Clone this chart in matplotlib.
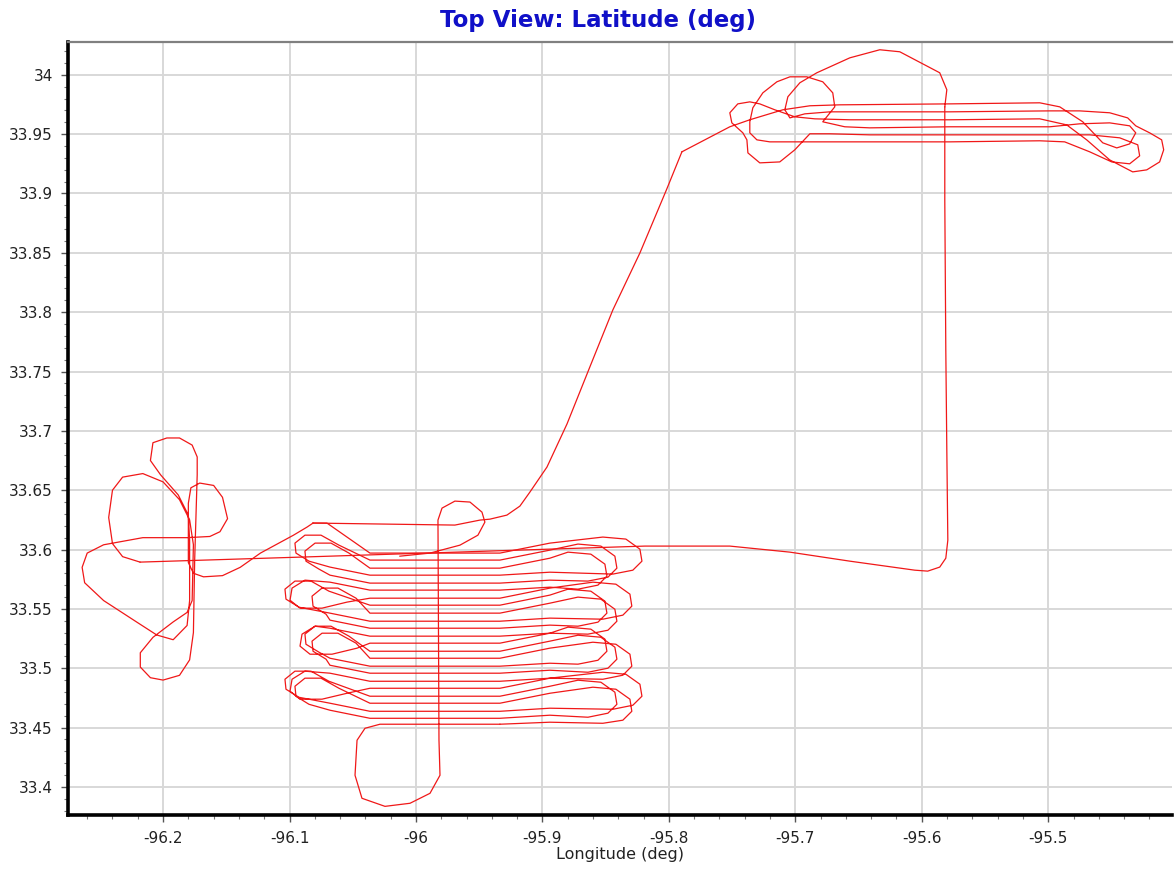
import numpy as np
import matplotlib
matplotlib.use("Agg")
import matplotlib.pyplot as plt
from matplotlib.ticker import MultipleLocator, FuncFormatter

# --- flight track (lon, lat in deg) ---

# box corner -> diagonal up to the NE pattern
transit_lon = [-96.0814, -95.9692, -95.9494, -95.9415, -95.9281, -95.9178, -95.9099,
               -95.8964, -95.8806, -95.8625, -95.8443, -95.8229, -95.8016, -95.7897]
transit_lat = [33.6223, 33.6206, 33.6248, 33.6256, 33.6290, 33.6366, 33.6484,
               33.6695, 33.7057, 33.7538, 33.8019, 33.8499, 33.9039, 33.9351]

# NE racetrack with loops at both ends
ne_lon = [-95.7897, -95.7518, -95.7360, -95.7099, -95.6885, -95.6648, -95.5779, -95.5067,
          -95.4909, -95.4727, -95.4569, -95.4458, -95.4356, -95.4308, -95.4356, -95.4514,
          -95.4751, -95.4988, -95.5779, -95.6411, -95.6609, -95.6783, -95.6688, -95.6704,
          -95.6783, -95.6909, -95.7043, -95.7146, -95.7257, -95.7336, -95.7360, -95.7360,
          -95.7304, -95.7202, -95.6569, -95.5779, -95.5067, -95.4870, -95.4672, -95.4498,
          -95.4356, -95.4277, -95.4292, -95.4435, -95.4672, -95.4988, -95.5779, -95.6411,
          -95.6727, -95.6885, -95.7004, -95.7123, -95.7281, -95.7375, -95.7383, -95.7415,
          -95.7502, -95.7518, -95.7455, -95.7360, -95.7281, -95.7162, -95.7004, -95.6846,
          -95.6569, -95.5779, -95.5067, -95.4854, -95.4696, -95.4514, -95.4332, -95.4221,
          -95.4119, -95.4087, -95.4103, -95.4198, -95.4308, -95.4372, -95.4514, -95.4751,
          -95.4988, -95.5779, -95.6411, -95.6727, -95.6925, -95.7043, -95.7083, -95.7059,
          -95.6964, -95.6830, -95.6569, -95.6332, -95.6174, -95.5858, -95.5802, -95.5818]
ne_lat = [33.9351, 33.9562, 33.9621, 33.9705, 33.9739, 33.9747, 33.9755, 33.9764,
          33.9730, 33.9604, 33.9427, 33.9384, 33.9418, 33.9511, 33.9570, 33.9595,
          33.9587, 33.9562, 33.9562, 33.9553, 33.9562, 33.9604, 33.9730, 33.9848,
          33.9941, 33.9983, 33.9983, 33.9941, 33.9848, 33.9722, 33.9604, 33.9511,
          33.9452, 33.9435, 33.9435, 33.9435, 33.9444, 33.9435, 33.9351, 33.9266,
          33.9250, 33.9317, 33.9410, 33.9469, 33.9494, 33.9494, 33.9494, 33.9494,
          33.9503, 33.9503, 33.9368, 33.9266, 33.9258, 33.9342, 33.9452, 33.9511,
          33.9595, 33.9680, 33.9755, 33.9772, 33.9755, 33.9705, 33.9646, 33.9629,
          33.9621, 33.9621, 33.9629, 33.9578, 33.9452, 33.9283, 33.9182, 33.9199,
          33.9266, 33.9368, 33.9452, 33.9511, 33.9570, 33.9637, 33.9680, 33.9696,
          33.9696, 33.9688, 33.9688, 33.9688, 33.9671, 33.9637, 33.9705, 33.9815,
          33.9933, 34.0017, 34.0143, 34.0211, 34.0194, 34.0017, 33.9874, 33.9730]

# east leg down, then straight back west
return_lon = [-95.5818, -95.5818, -95.5810, -95.5802, -95.5794, -95.5810, -95.5858, -95.5953,
              -95.6055, -95.6569, -95.7043, -95.7518, -95.8190, -96.0917, -96.2182]
return_lat = [33.9730, 33.8946, 33.7681, 33.6838, 33.6079, 33.5927, 33.5852, 33.5818,
              33.5826, 33.5902, 33.5978, 33.6029, 33.6029, 33.5936, 33.5894]

# loops to the west
west_lon = [-96.2182, -96.232, -96.240, -96.243, -96.240, -96.232, -96.216, -96.200, -96.187,
            -96.179, -96.176, -96.177, -96.181, -96.192, -96.208, -96.218, -96.218, -96.210,
            -96.200, -96.187, -96.179, -96.176, -96.175, -96.173, -96.173, -96.177, -96.187,
            -96.197, -96.208, -96.210, -96.202, -96.188, -96.180, -96.179, -96.179, -96.181,
            -96.192, -96.205, -96.221, -96.247, -96.262, -96.264, -96.260, -96.247, -96.216,
            -96.181, -96.163, -96.155, -96.149, -96.153, -96.160, -96.171, -96.178, -96.180,
            -96.180, -96.180, -96.176, -96.168, -96.153, -96.139, -96.123, -96.097, -96.086,
            -96.0814]
west_lat = [33.5894, 33.594, 33.605, 33.627, 33.650, 33.661, 33.664, 33.657, 33.642,
            33.625, 33.604, 33.557, 33.547, 33.539, 33.526, 33.513, 33.501, 33.492,
            33.490, 33.494, 33.507, 33.530, 33.591, 33.663, 33.678, 33.688, 33.694,
            33.694, 33.690, 33.675, 33.663, 33.646, 33.629, 33.608, 33.557, 33.536,
            33.524, 33.528, 33.539, 33.557, 33.572, 33.585, 33.597, 33.604, 33.610,
            33.610, 33.611, 33.615, 33.626, 33.644, 33.654, 33.656, 33.652, 33.639,
            33.616, 33.589, 33.580, 33.577, 33.578, 33.585, 33.597, 33.612, 33.619,
            33.6223]

# survey box (racetrack passes)
box_lon = [
    -96.0814, -96.0704, -96.0545, -96.0364, -95.9336,
    -95.8941, -95.8522, -95.8340, -95.8229, -95.8213, -95.8285, -95.8443, -95.8941, -95.9336,
    -96.0364, -96.0680, -96.0846, -96.0949, -96.0957, -96.0878, -96.0751, -96.0609, -96.0364,
    -95.9336, -95.8941, -95.8719, -95.8538, -95.8427, -95.8411, -95.8482, -95.8640, -95.8941, -95.9336,
    -96.0364, -96.0680, -96.0767, -96.0870, -96.0878, -96.0798, -96.0672, -96.0530, -96.0364,
    -95.9336, -95.8941, -95.8798, -95.8617, -95.8506, -95.8490, -95.8561, -95.8719, -95.8941, -95.9336,
    -96.0364, -96.0680, -96.0878, -96.0980, -96.0996, -96.0917, -96.0743, -96.0545, -96.0364,
    -95.9336, -95.8941, -95.8601, -95.8419, -95.8308, -95.8293, -95.8364, -95.8522, -95.8941, -95.9336,
    -96.0364, -96.0680, -96.0925, -96.1028, -96.1036, -96.0957, -96.0830, -96.0688, -96.0364,
    -95.9336, -95.8941, -95.8798, -95.8617, -95.8506, -95.8490, -95.8561, -95.8719, -95.8941, -95.9336,
    -96.0364, -96.0680, -96.0711, -96.0814, -96.0822, -96.0743, -96.0617, -96.0474, -96.0364,
    -95.9336, -95.8941, -95.8719, -95.8538, -95.8427, -95.8411, -95.8482, -95.8640, -95.8941, -95.9336,
    -96.0364, -96.0680, -96.0798, -96.0901, -96.0917, -96.0838, -96.0664, -96.0466, -96.0364,
    -95.9336, -95.8941, -95.8798, -95.8617, -95.8506, -95.8490, -95.8561, -95.8719, -95.8941, -95.9336,
    -96.0364, -96.0680, -96.0767, -96.0870, -96.0878, -96.0798, -96.0672, -96.0530, -96.0364,
    -95.9336, -95.8941, -95.8719, -95.8538, -95.8427, -95.8411, -95.8482, -95.8640, -95.8941, -95.9336,
    -96.0364, -96.0680, -96.0711, -96.0814, -96.0822, -96.0743, -96.0617, -96.0474, -96.0364,
    -95.9336, -95.8941, -95.8601, -95.8419, -95.8308, -95.8293, -95.8364, -95.8522, -95.8941, -95.9336,
    -96.0364, -96.0680, -96.0878, -96.0980, -96.0996, -96.0917, -96.0743, -96.0545, -96.0364,
    -95.9336, -95.8941, -95.8522, -95.8340, -95.8229, -95.8213, -95.8285, -95.8443, -95.8941, -95.9336,
    -96.0364, -96.0680, -96.0925, -96.1028, -96.1036, -96.0957, -96.0830, -96.0688, -96.0364,
    -95.9336, -95.8941, -95.8719, -95.8538, -95.8427, -95.8411, -95.8482, -95.8640, -95.8941, -95.9336,
    -96.0364, -96.0680, -96.0846, -96.0949, -96.0957, -96.0878, -96.0751, -96.0609, -96.0364,
    -95.9336, -95.8941, -95.8601, -95.8419, -95.8308, -95.8293, -95.8364, -95.8522, -95.8941, -95.9336,
]
box_lat = [
    33.6223, 33.6223, 33.6105, 33.5970, 33.5970,
    33.6054, 33.6105, 33.6088, 33.6003, 33.5902, 33.5826, 33.5793, 33.5809, 33.5784,
    33.5784, 33.5852, 33.5902, 33.5970, 33.6054, 33.6121, 33.6121, 33.6037, 33.5911,
    33.5911, 33.5995, 33.6046, 33.6029, 33.5944, 33.5843, 33.5767, 33.5734, 33.5742, 33.5717,
    33.5717, 33.5784, 33.5835, 33.5902, 33.5987, 33.6054, 33.6054, 33.5970, 33.5843,
    33.5843, 33.5927, 33.5978, 33.5961, 33.5877, 33.5776, 33.5700, 33.5666, 33.5683, 33.5658,
    33.5658, 33.5725, 33.5742, 33.5675, 33.5573, 33.5506, 33.5506, 33.5557, 33.5590,
    33.5590, 33.5675, 33.5725, 33.5708, 33.5624, 33.5523, 33.5447, 33.5413, 33.5422, 33.5396,
    33.5396, 33.5464, 33.5514, 33.5582, 33.5666, 33.5734, 33.5734, 33.5649, 33.5531,
    33.5531, 33.5616, 33.5666, 33.5649, 33.5565, 33.5464, 33.5388, 33.5354, 33.5363, 33.5337,
    33.5337, 33.5405, 33.5455, 33.5523, 33.5607, 33.5675, 33.5675, 33.5590, 33.5464,
    33.5464, 33.5548, 33.5599, 33.5582, 33.5497, 33.5396, 33.5320, 33.5287, 33.5295, 33.5270,
    33.5270, 33.5337, 33.5354, 33.5287, 33.5186, 33.5118, 33.5118, 33.5169, 33.5211,
    33.5211, 33.5295, 33.5346, 33.5329, 33.5245, 33.5143, 33.5067, 33.5034, 33.5042, 33.5017,
    33.5017, 33.5084, 33.5135, 33.5202, 33.5287, 33.5354, 33.5354, 33.5270, 33.5143,
    33.5143, 33.5228, 33.5278, 33.5261, 33.5177, 33.5076, 33.5000, 33.4966, 33.4983, 33.4958,
    33.4958, 33.5025, 33.5076, 33.5143, 33.5228, 33.5295, 33.5295, 33.5211, 33.5084,
    33.5084, 33.5169, 33.5219, 33.5202, 33.5118, 33.5017, 33.4941, 33.4907, 33.4916, 33.4890,
    33.4890, 33.4958, 33.4975, 33.4907, 33.4806, 33.4739, 33.4739, 33.4789, 33.4831,
    33.4831, 33.4916, 33.4966, 33.4949, 33.4865, 33.4764, 33.4688, 33.4654, 33.4663, 33.4637,
    33.4637, 33.4705, 33.4755, 33.4823, 33.4907, 33.4975, 33.4975, 33.4890, 33.4764,
    33.4764, 33.4848, 33.4899, 33.4882, 33.4798, 33.4696, 33.4621, 33.4587, 33.4604, 33.4578,
    33.4578, 33.4646, 33.4696, 33.4764, 33.4848, 33.4916, 33.4916, 33.4831, 33.4705,
    33.4705, 33.4789, 33.4840, 33.4823, 33.4739, 33.4637, 33.4562, 33.4536, 33.4545, 33.4528,
]

# bottom pass -> south loop -> north along the centre line -> small loop
south_lon = [-95.9336, -96.0285, -96.0403, -96.0466, -96.0482, -96.0427, -96.0245, -96.0047,
             -95.9889, -95.9810, -95.9818, -95.9826, -95.9794, -95.9692, -95.9573, -95.9478,
             -95.9455, -95.9510, -95.9652, -95.9889, -96.0127]
south_lat = [33.4528, 33.4528, 33.4494, 33.4393, 33.4098, 33.3904, 33.3836, 33.3862,
             33.3946, 33.4098, 33.4393, 33.6248, 33.6349, 33.6408, 33.6400, 33.6315,
             33.6231, 33.6121, 33.6037, 33.5970, 33.5944]

x_ticks = [-96.2, -96.1, -96.0, -95.9, -95.8, -95.7, -95.6, -95.5]
y_ticks = [33.4, 33.45, 33.5, 33.55, 33.6, 33.65, 33.7, 33.75, 33.8, 33.85, 33.9, 33.95, 34.0]

fig = plt.figure(figsize=(11.74, 8.71), dpi=100)
ax = fig.add_axes([0.058, 0.064, 0.940, 0.888])

for lo, la in [(transit_lon, transit_lat), (ne_lon, ne_lat), (return_lon, return_lat),
               (west_lon, west_lat), (box_lon, box_lat), (south_lon, south_lat)]:
    ax.plot(lo, la, color="#f01818", lw=0.9, zorder=3)

ax.set_xlim(-96.2751, -95.4024)
ax.set_ylim(33.3761, 34.0278)
ax.set_xticks(x_ticks)
ax.set_yticks(y_ticks)
ax.xaxis.set_minor_locator(MultipleLocator(0.02))
ax.yaxis.set_minor_locator(MultipleLocator(0.01))
fmt = FuncFormatter(lambda v, p: "%g" % round(v, 3))
ax.xaxis.set_major_formatter(fmt)
ax.yaxis.set_major_formatter(fmt)

ax.grid(True, which="major", color="#d8d8d8", lw=1.4, zorder=0)
ax.set_axisbelow(True)

ax.tick_params(which="major", length=5, width=1, color="#555555", labelsize=11,
               labelcolor="#222222", pad=6)
ax.tick_params(which="minor", length=3, width=0.8, color="#777777")

ax.spines["left"].set_linewidth(2.6)
ax.spines["left"].set_color("black")
ax.spines["bottom"].set_linewidth(2.6)
ax.spines["bottom"].set_color("black")
ax.spines["top"].set_linewidth(1.6)
ax.spines["top"].set_color("#808080")
ax.spines["right"].set_visible(False)

ax.set_xlabel("Longitude (deg)", fontsize=11.5, color="#222222", labelpad=1)
fig.text(0.509, 0.976, "Top View: Latitude (deg)", ha="center", va="center",
         fontsize=16.5, fontweight="bold", color="#1010c8")

fig.savefig("out.png", dpi=100, facecolor="white")
